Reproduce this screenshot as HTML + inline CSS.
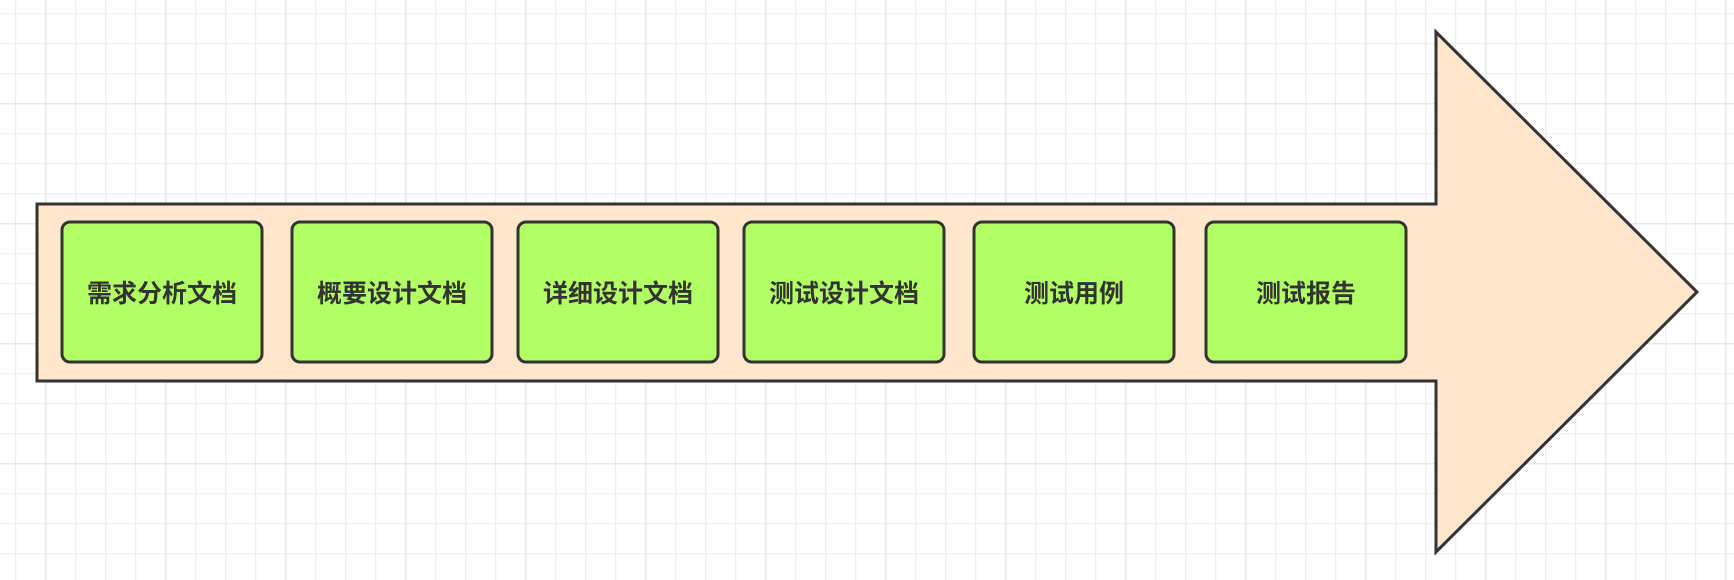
<!DOCTYPE html>
<html><head><meta charset="utf-8"><style>
html,body{margin:0;padding:0;background:#fff;}
svg{display:block;}
text{font-family:"Liberation Sans","Noto Sans CJK SC",sans-serif;font-weight:bold;font-size:25px;fill:#333;}
</style></head><body>
<svg width="1734" height="580" xmlns="http://www.w3.org/2000/svg">
<defs>
<pattern id="g" x="15" y="13" width="30" height="30" patternUnits="userSpaceOnUse">
<path d="M0.5 0V30M0 0.5H30" stroke="#f0f0f0" stroke-width="1.5" fill="none"/>
</pattern>
<pattern id="G" x="45" y="103" width="120" height="120" patternUnits="userSpaceOnUse">
<path d="M0.5 0V120M0 0.5H120" stroke="#e8e8e8" stroke-width="2" fill="none"/>
</pattern>
</defs>
<rect width="1734" height="580" fill="url(#g)"/>
<rect width="1734" height="580" fill="url(#G)"/>
<polygon points="37,204 1436,204 1436,32 1697,292 1436,552 1436,381 37,381" fill="#ffe6cc" stroke="#333" stroke-width="3" stroke-linejoin="miter"/>
<g fill="#b3ff66" stroke="#333" stroke-width="3">
<rect x="62" y="222" width="200" height="140" rx="8"/>
<rect x="292" y="222" width="200" height="140" rx="8"/>
<rect x="518" y="222" width="200" height="140" rx="8"/>
<rect x="744" y="222" width="200" height="140" rx="8"/>
<rect x="974" y="222" width="200" height="140" rx="8"/>
<rect x="1206" y="222" width="200" height="140" rx="8"/>
</g>
<g text-anchor="middle">
<text x="162" y="302">需求分析文档</text>
<text x="392" y="302">概要设计文档</text>
<text x="618" y="302">详细设计文档</text>
<text x="844" y="302">测试设计文档</text>
<text x="1074" y="302">测试用例</text>
<text x="1306" y="302">测试报告</text>
</g>
</svg>
</body></html>
